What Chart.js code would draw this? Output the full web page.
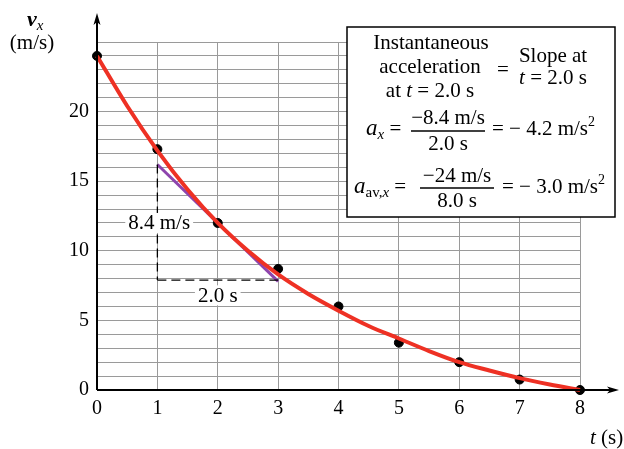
<!DOCTYPE html>
<html>
<head>
<meta charset="utf-8">
<script src="https://cdn.jsdelivr.net/npm/chart.js@4.4.0/dist/chart.umd.min.js"></script>
<style>
  body { margin: 0; background: #fff; }
</style>
</head>
<body>
<canvas id="velChart" width="624" height="449"></canvas>
<script>
// measured velocities (black dots)
const times = [0, 1, 2, 3, 4, 5, 6, 7, 8];
const measuredV = [24, 17.3, 12, 8.7, 6, 3.4, 2, 0.75, 0];
// smooth red curve
const curveT = [0, 0.5, 1, 1.5, 2, 2.5, 3, 3.5, 4, 4.5, 5, 5.5, 6, 6.5, 7, 7.5, 8];
const curveV = [24, 20.4, 17.2, 14.4, 12, 10, 8.3, 6.9, 5.7, 4.6, 3.7, 2.8, 2.0, 1.4, 0.85, 0.4, 0];
// tangent at t = 2.0 s
const tangentT = [1, 3];
const tangentV = [16.2, 7.8];
// rise / run dashed legs
const riseT = [1, 1];
const riseV = [16.2, 7.9];
const runT = [1, 3];
const runV = [7.9, 7.9];
const yTickLabels = [0, 5, 10, 15, 20];
const xTickLabels = [0, 1, 2, 3, 4, 5, 6, 7, 8];

const serif = "'Liberation Serif', 'Times New Roman', serif";
const pts = (xs, ys) => xs.map((x, i) => ({ x: x, y: ys[i] }));

// draw a row of text runs (mixed italic / sub / sup)
function drawRuns(ctx, runs, x, y, align) {
    let total = 0;
    runs.forEach(r => { ctx.font = r.font; total += ctx.measureText(r.text).width; });
    let cx = align === 'center' ? x - total / 2 : x;
    ctx.textAlign = 'left';
    ctx.textBaseline = 'alphabetic';
    runs.forEach(r => {
        ctx.font = r.font;
        ctx.fillText(r.text, cx, y + (r.dy || 0));
        cx += ctx.measureText(r.text).width;
    });
}

const R = '21px ' + serif;
const I = 'italic 21px ' + serif;
const IA = 'italic 23px ' + serif;
const SUB = 'italic 15px ' + serif;
const SUBN = '15px ' + serif;
const SUP = '14px ' + serif;

const overlay = {
    id: 'overlay',
    afterDraw(chart) {
        const ctx = chart.ctx;
        const xs = chart.scales.x, ys = chart.scales.y;
        const x0 = xs.getPixelForValue(0), y0 = ys.getPixelForValue(0);
        ctx.save();
        ctx.fillStyle = '#000';
        ctx.strokeStyle = '#000';

        // axes with arrows
        ctx.lineWidth = 2;
        ctx.beginPath();
        ctx.moveTo(x0, y0); ctx.lineTo(x0, 20);
        ctx.moveTo(x0, y0); ctx.lineTo(612, y0);
        ctx.stroke();
        ctx.beginPath();
        ctx.moveTo(x0, 13); ctx.lineTo(x0 - 3.5, 25); ctx.lineTo(x0, 22); ctx.lineTo(x0 + 3.5, 25); ctx.closePath();
        ctx.fill();
        ctx.beginPath();
        ctx.moveTo(619, y0); ctx.lineTo(607, y0 - 3.5); ctx.lineTo(610, y0); ctx.lineTo(607, y0 + 3.5); ctx.closePath();
        ctx.fill();

        // axis titles
        drawRuns(ctx, [{ text: 'v', font: 'bold italic 22px ' + serif }, { text: 'x', font: SUB, dy: 4 }], 27, 26, 'left');
        drawRuns(ctx, [{ text: '(m/s)', font: R }], 32, 49, 'center');
        drawRuns(ctx, [{ text: 't', font: I }, { text: ' (s)', font: R }], 590, 444, 'left');

        // labels on the rise / run legs
        const lab = (txt, t, v) => {
            ctx.font = R;
            const w = ctx.measureText(txt).width;
            const px = xs.getPixelForValue(t), py = ys.getPixelForValue(v);
            ctx.fillStyle = '#fff';
            ctx.fillRect(px - w / 2 - 3, py - 10, w + 6, 20);
            ctx.fillStyle = '#000';
            ctx.textAlign = 'center';
            ctx.textBaseline = 'middle';
            ctx.fillText(txt, px, py + 1);
        };
        lab('8.4 m/s', 1.03, 12);
        lab('2.0 s', 2, 6.8);

        // text box
        ctx.fillStyle = '#fff';
        ctx.fillRect(347, 27, 268, 190);
        ctx.lineWidth = 1.5;
        ctx.strokeRect(347, 27, 268, 190);
        ctx.fillStyle = '#000';
        drawRuns(ctx, [{ text: 'Instantaneous', font: R }], 431, 49, 'center');
        drawRuns(ctx, [{ text: 'acceleration', font: R }], 430, 73, 'center');
        drawRuns(ctx, [{ text: 'at ', font: R }, { text: 't', font: I }, { text: ' = 2.0 s', font: R }], 430, 97, 'center');
        drawRuns(ctx, [{ text: '=', font: R }], 503, 76, 'center');
        drawRuns(ctx, [{ text: 'Slope at', font: R }], 553, 62, 'center');
        drawRuns(ctx, [{ text: 't', font: I }, { text: ' = 2.0 s', font: R }], 553, 84, 'center');

        // a_x line
        drawRuns(ctx, [{ text: 'a', font: IA }, { text: 'x', font: SUB, dy: 4 }, { text: ' =', font: R }], 366, 135, 'left');
        drawRuns(ctx, [{ text: '\u22128.4 m/s', font: R }], 448, 124, 'center');
        ctx.lineWidth = 1.5;
        ctx.beginPath(); ctx.moveTo(411, 131); ctx.lineTo(485, 131); ctx.stroke();
        drawRuns(ctx, [{ text: '2.0 s', font: R }], 448, 150, 'center');
        drawRuns(ctx, [{ text: '= \u2212 4.2 m/s', font: R }, { text: '2', font: SUP, dy: -9 }], 492, 135, 'left');

        // a_av,x line
        drawRuns(ctx, [{ text: 'a', font: IA }, { text: 'av,', font: SUBN, dy: 4 }, { text: 'x', font: SUB, dy: 4 }, { text: ' =', font: R }], 354, 193, 'left');
        drawRuns(ctx, [{ text: '\u221224 m/s', font: R }], 457, 182, 'center');
        ctx.beginPath(); ctx.moveTo(420, 188); ctx.lineTo(494, 188); ctx.stroke();
        drawRuns(ctx, [{ text: '8.0 s', font: R }], 457, 207, 'center');
        drawRuns(ctx, [{ text: '= \u2212 3.0 m/s', font: R }, { text: '2', font: SUP, dy: -9 }], 502, 193, 'left');

        ctx.restore();
    }
};

const chart = new Chart(document.getElementById('velChart').getContext('2d'), {
    type: 'scatter',
    data: {
        datasets: [
            {
                label: 'rise',
                data: pts(riseT, riseV),
                showLine: true,
                borderColor: '#000',
                borderWidth: 1.3,
                borderDash: [9, 5],
                pointRadius: 0
            },
            {
                label: 'run',
                data: pts(runT, runV),
                showLine: true,
                borderColor: '#000',
                borderWidth: 1.3,
                borderDash: [9, 5],
                pointRadius: 0
            },
            {
                label: 'curve',
                data: pts(curveT, curveV),
                showLine: true,
                cubicInterpolationMode: 'monotone',
                borderColor: '#ee3124',
                borderWidth: 4,
                pointRadius: 0,
                clip: false
            },
            {
                label: 'tangent',
                data: pts(tangentT, tangentV),
                showLine: true,
                borderColor: '#8e44ad',
                borderWidth: 3,
                pointRadius: 0
            },
            {
                label: 'measured',
                data: pts(times, measuredV),
                showLine: false,
                pointRadius: 4.5,
                pointBackgroundColor: '#000',
                pointBorderColor: '#000',
                clip: false
            }
        ]
    },
    options: {
        responsive: false,
        animation: false,
        layout: { padding: { top: 42, right: 44, left: 0, bottom: 0 } },
        plugins: {
            legend: { display: false },
            tooltip: { enabled: false }
        },
        scales: {
            x: {
                type: 'linear',
                min: 0,
                max: 8,
                afterFit: s => { s.height = 59; },
                afterBuildTicks: s => { s.ticks = xTickLabels.map(v => ({ value: v })); },
                grid: { color: '#9a9a9a', lineWidth: 1, drawTicks: false },
                border: { display: false },
                ticks: {
                    autoSkip: false,
                    padding: 7,
                    color: '#000',
                    font: { family: serif, size: 20 },
                    maxRotation: 0
                }
            },
            y: {
                type: 'linear',
                min: 0,
                max: 25,
                afterFit: s => { s.width = 97; },
                grid: { color: '#9a9a9a', lineWidth: 1, drawTicks: false },
                border: { display: false },
                ticks: {
                    stepSize: 1,
                    autoSkip: false,
                    padding: 8,
                    color: '#000',
                    font: { family: serif, size: 20 },
                    callback: v => yTickLabels.includes(v) ? String(v) : ''
                }
            }
        }
    },
    plugins: [overlay]
});
</script>
</body>
</html>
